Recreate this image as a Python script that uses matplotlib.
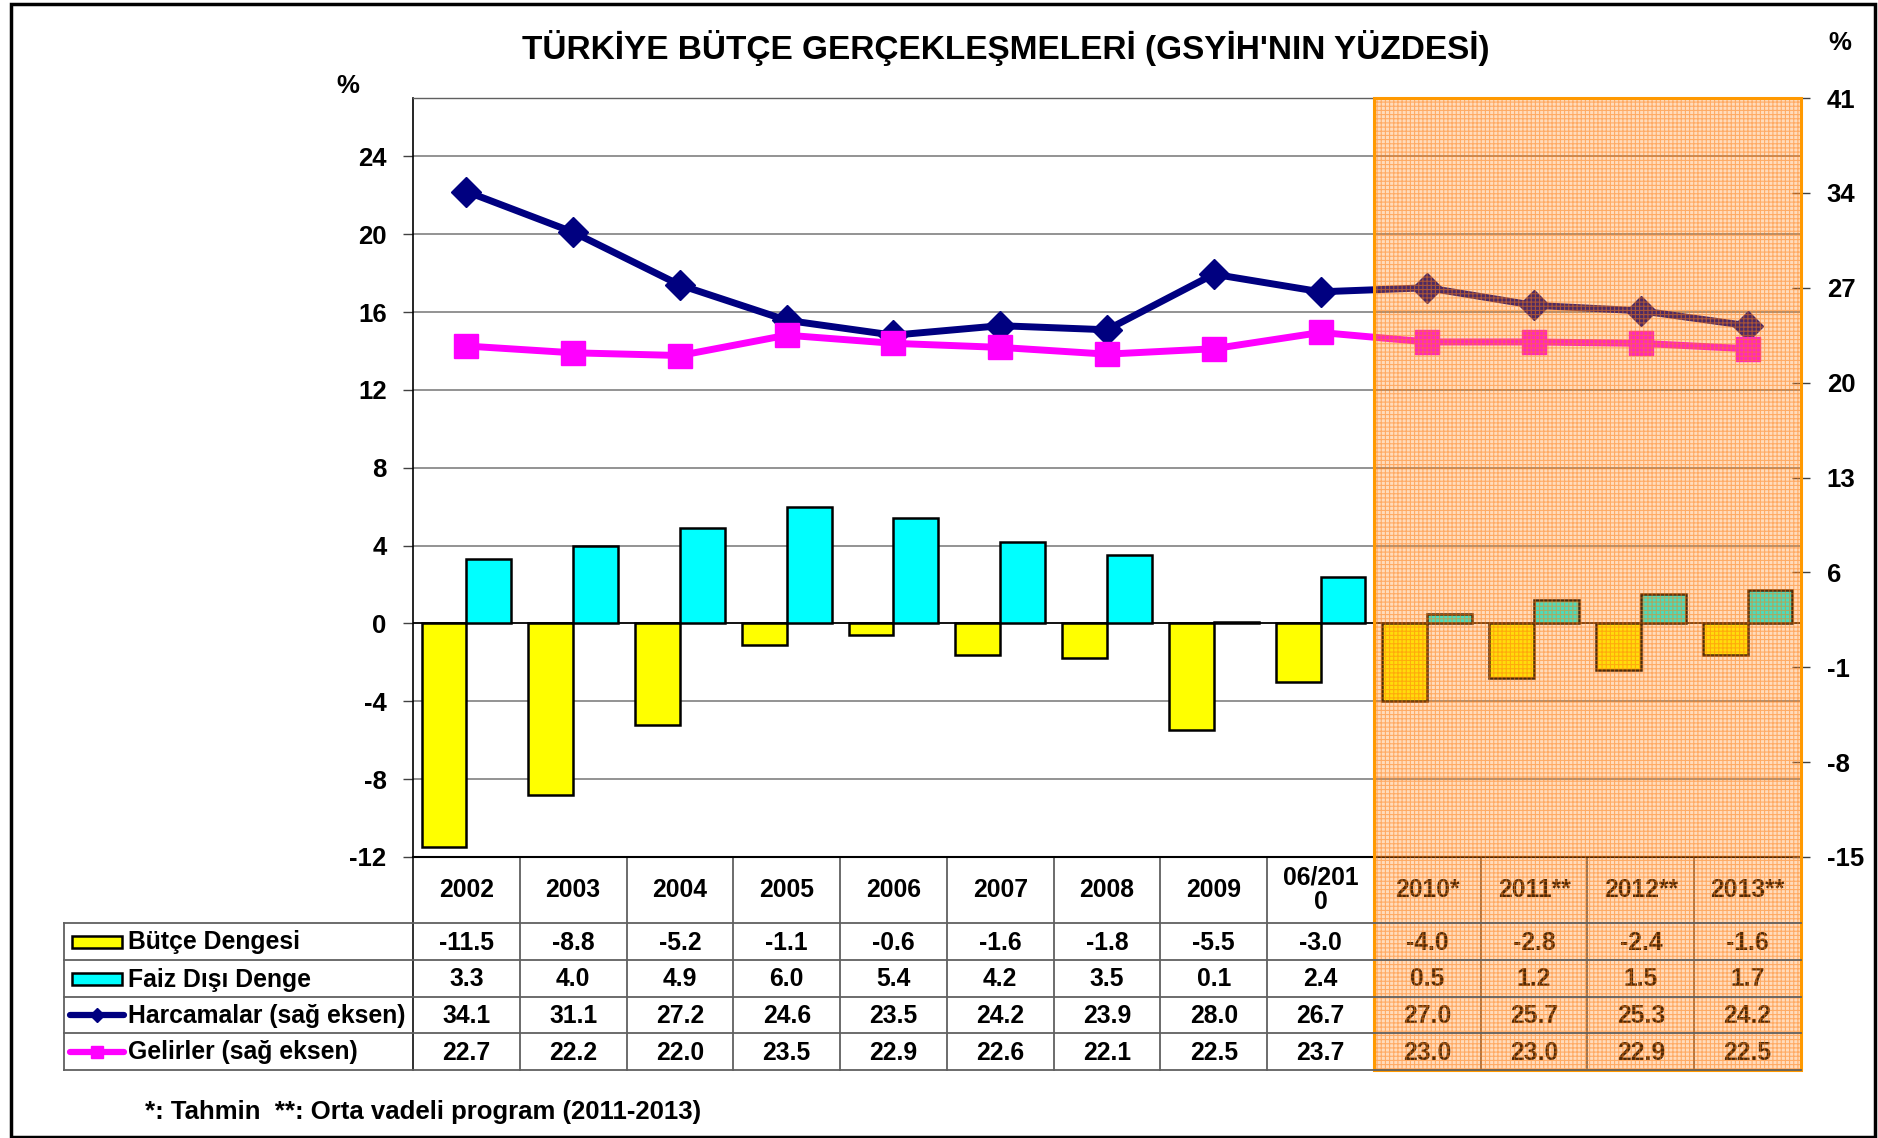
import matplotlib
matplotlib.use("Agg")
import matplotlib.pyplot as plt
from matplotlib.patches import Rectangle
from matplotlib.lines import Line2D
from matplotlib.transforms import blended_transform_factory

plt.rcParams['font.family'] = ['Liberation Sans', 'DejaVu Sans']
plt.rcParams['font.weight'] = 'bold'
plt.rcParams['axes.unicode_minus'] = False

# ---------------- data ----------------
header_labels = ['2002', '2003', '2004', '2005', '2006', '2007', '2008', '2009',
                 '06/201\n0', '2010*', '2011**', '2012**', '2013**']
butce_dengesi = [-11.5, -8.8, -5.2, -1.1, -0.6, -1.6, -1.8, -5.5, -3.0, -4.0, -2.8, -2.4, -1.6]
faiz_disi_denge = [3.3, 4.0, 4.9, 6.0, 5.4, 4.2, 3.5, 0.1, 2.4, 0.5, 1.2, 1.5, 1.7]
harcamalar = [34.1, 31.1, 27.2, 24.6, 23.5, 24.2, 23.9, 28.0, 26.7, 27.0, 25.7, 25.3, 24.2]
gelirler = [22.7, 22.2, 22.0, 23.5, 22.9, 22.6, 22.1, 22.5, 23.7, 23.0, 23.0, 22.9, 22.5]
series_names = ['Bütçe Dengesi', 'Faiz Dışı Denge', 'Harcamalar (sağ eksen)', 'Gelirler (sağ eksen)']
left_ticks = [-12, -8, -4, 0, 4, 8, 12, 16, 20, 24]
right_ticks = [-15, -8, -1, 6, 13, 20, 27, 34, 41]
n_forecast = 4
title = "TÜRKİYE BÜTÇE GERÇEKLEŞMELERİ (GSYİH'NIN YÜZDESİ)"
footer = "*: Tahmin  **: Orta vadeli program (2011-2013)"

# ---------------- layout ----------------
W, H = 1878, 1138
def X(px): return px / W
def Y(px): return 1 - px / H

fig = plt.figure(figsize=(W / 100, H / 100), dpi=100)
fig.patch.set_facecolor('white')

ax_l, ax_r, ax_t, ax_b = 413, 1801, 98, 857
ax = fig.add_axes([X(ax_l), Y(ax_b), X(ax_r) - X(ax_l), Y(ax_t) - Y(ax_b)])
n = len(header_labels)
xs = list(range(n))
ax.set_xlim(-0.5, n - 0.5)
ax.set_ylim(-12, 27)
ax.set_yticks(left_ticks)
ax.set_xticks([])
ax.yaxis.grid(True, color='#808080', lw=1.2)
ax.set_axisbelow(True)
for s in ['top', 'right']:
    ax.spines[s].set_color('#606060')
    ax.spines[s].set_linewidth(1.0)
ax.spines['left'].set_color('black')
ax.spines['bottom'].set_color('black')
ax.spines['left'].set_linewidth(1.2)
ax.spines['bottom'].set_linewidth(1.5)
ax.tick_params(axis='y', direction='out', length=7, width=1.0, color='#404040',
               pad=12, labelsize=18.5)
for lab in ax.get_yticklabels():
    lab.set_fontweight('bold')

bw = 0.42
ax.bar([x - bw / 2 for x in xs], butce_dengesi, width=bw, color='#FFFF00',
       edgecolor='black', linewidth=1.8, zorder=3)
ax.bar([x + bw / 2 for x in xs], faiz_disi_denge, width=bw, color='#00FFFF',
       edgecolor='black', linewidth=1.8, zorder=3)
ax.axhline(0, color='black', lw=1.2, zorder=2.5)

ax2 = ax.twinx()
ax2.set_ylim(-15, 41)
ax2.set_yticks(right_ticks)
ax2.set_xlim(-0.5, n - 0.5)
ax2.tick_params(axis='y', direction='inout', length=13, width=1.0, color='#404040',
                pad=12, labelsize=18.5)
for lab in ax2.get_yticklabels():
    lab.set_fontweight('bold')
for s in ['top', 'left', 'bottom']:
    ax2.spines[s].set_visible(False)
ax2.spines['right'].set_color('#606060')

ax2.plot(xs, harcamalar, color='#000080', lw=5, marker='D', markersize=15,
         markeredgecolor='#000080', zorder=4)
ax2.plot(xs, gelirler, color='#FF00FF', lw=5, marker='s', markersize=17,
         markeredgecolor='#FF00FF', zorder=4)

# ---------------- titles ----------------
fig.text(X(1006), Y(48), title, ha='center', va='center', fontsize=24, fontweight='bold')
fig.text(X(348), Y(86), '%', ha='center', va='center', fontsize=18.5, fontweight='bold')
fig.text(X(1840), Y(43), '%', ha='center', va='center', fontsize=18.5, fontweight='bold')
fig.text(X(145), Y(1112), footer, ha='left', va='center', fontsize=18.5, fontweight='bold')

# ---------------- data table ----------------
blend = blended_transform_factory(ax.transData, fig.transFigure)
row_edges = [857, 923, 960, 997, 1033, 1070]
tab_left = 64
grid_c = '#606060'

for ry in row_edges[1:]:
    fig.add_artist(Line2D([X(tab_left), X(ax_r)], [Y(ry), Y(ry)], color=grid_c, lw=1.3,
                          zorder=1))
fig.add_artist(Line2D([X(tab_left), X(tab_left)], [Y(923), Y(1070)], color=grid_c, lw=1.3))
for i in range(n + 1):
    ax.add_line(Line2D([i - 0.5, i - 0.5], [Y(857), Y(1070)], transform=blend,
                       color='#202020' if i == 0 else grid_c, lw=1.3, clip_on=False))

for i, lab in enumerate(header_labels):
    ax.text(i, Y(890), lab, transform=blend, ha='center', va='center', fontsize=17.8,
            fontweight='bold', clip_on=False, linespacing=1.05)

rows = [butce_dengesi, faiz_disi_denge, harcamalar, gelirler]
for r, vals in enumerate(rows):
    yc = (row_edges[r + 1] + row_edges[r + 2]) / 2
    for i, v in enumerate(vals):
        ax.text(i, Y(yc + 1), f"{v:.1f}", transform=blend, ha='center', va='center',
                fontsize=17.8, fontweight='bold', clip_on=False)
    fig.text(X(128), Y(yc + 1), series_names[r], ha='left', va='center', fontsize=17.8,
             fontweight='bold')

yc0 = (row_edges[1] + row_edges[2]) / 2
yc1 = (row_edges[2] + row_edges[3]) / 2
yc2 = (row_edges[3] + row_edges[4]) / 2
yc3 = (row_edges[4] + row_edges[5]) / 2
fig.add_artist(Rectangle((X(72), Y(yc0 + 6)), X(122) - X(72), Y(yc0 - 6) - Y(yc0 + 6),
                         transform=fig.transFigure, facecolor='#FFFF00', edgecolor='black', lw=1.8))
fig.add_artist(Rectangle((X(72), Y(yc1 + 6)), X(122) - X(72), Y(yc1 - 6) - Y(yc1 + 6),
                         transform=fig.transFigure, facecolor='#00FFFF', edgecolor='black', lw=1.8))
fig.add_artist(Line2D([X(70), X(124)], [Y(yc2), Y(yc2)], color='#000080', lw=4.5,
                      solid_capstyle='round'))
fig.add_artist(Line2D([X(97)], [Y(yc2)], color='#000080', marker='D', markersize=7))
fig.add_artist(Line2D([X(70), X(124)], [Y(yc3), Y(yc3)], color='#FF00FF', lw=4.5,
                      solid_capstyle='round'))
fig.add_artist(Line2D([X(97)], [Y(yc3)], color='#FF00FF', marker='s', markersize=8))

# ---------------- forecast overlay ----------------
ov_x0 = n - n_forecast - 0.5
plt.rcParams['hatch.linewidth'] = 0.8
ov_face = Rectangle((ov_x0, Y(1070)), n_forecast, Y(ax_t) - Y(1070), transform=blend,
                    facecolor=(1.0, 0.55, 0.15, 0.30), edgecolor='none', clip_on=False, zorder=20)
ov_hatch = Rectangle((ov_x0, Y(1070)), n_forecast, Y(ax_t) - Y(1070), transform=blend,
                     facecolor='none', edgecolor=(1.0, 0.48, 0.05, 0.5), hatch='++++', lw=0,
                     clip_on=False, zorder=21)
ov_edge = Rectangle((ov_x0, Y(1070)), n_forecast, Y(ax_t) - Y(1070), transform=blend,
                    facecolor='none', edgecolor='#FF9900', lw=2.2, clip_on=False, zorder=22)
for p in (ov_face, ov_hatch, ov_edge):
    ax2.add_patch(p)

fig.add_artist(Rectangle((X(11), Y(1137)), X(1875) - X(11), Y(4) - Y(1137),
                         transform=fig.transFigure, facecolor='none', edgecolor='black', lw=2.5))

fig.savefig('out.png', dpi=100)
